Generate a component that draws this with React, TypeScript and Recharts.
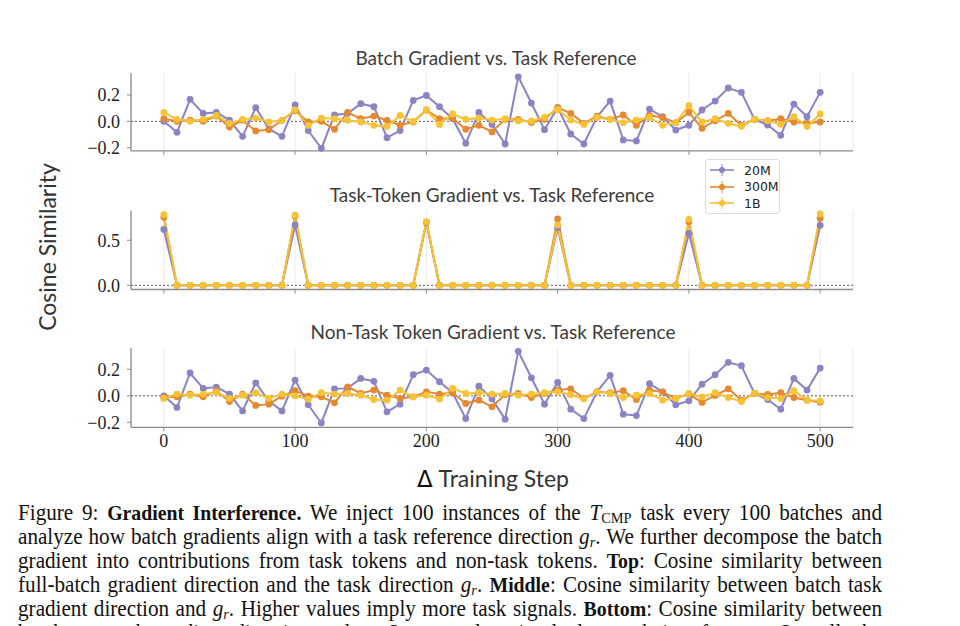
import React from 'react';
import { LineChart, Line, XAxis, YAxis, CartesianGrid, ReferenceLine } from 'recharts';

// ---- data ----
const steps = [0, 10, 20, 30, 40, 50, 60, 70, 80, 90, 100, 110, 120, 130, 140, 150, 160, 170, 180, 190, 200, 210, 220, 230, 240, 250, 260, 270, 280, 290, 300, 310, 320, 330, 340, 350, 360, 370, 380, 390, 400, 410, 420, 430, 440, 450, 460, 470, 480, 490, 500];
const xTicks = [0, 100, 200, 300, 400, 500];

const batch20M = [0.0, -0.083, 0.167, 0.06, 0.068, 0.01, -0.114, 0.104, -0.058, -0.114, 0.124, -0.07, -0.205, 0.048, 0.06, 0.134, 0.111, -0.124, -0.07, 0.159, 0.197, 0.111, 0.02, -0.167, 0.068, -0.023, -0.172, 0.338, 0.139, -0.063, 0.104, -0.096, -0.172, 0.035, 0.154, -0.141, -0.149, 0.093, 0.035, -0.066, -0.03, 0.086, 0.154, 0.253, 0.22, 0.015, -0.028, -0.106, 0.131, 0.035, 0.22];
const batch300M = [0.02, 0.0, 0.01, 0.0, 0.04, -0.043, 0.008, -0.073, -0.063, 0.008, 0.08, -0.005, 0.0, -0.06, 0.068, 0.02, 0.04, 0.008, -0.03, -0.005, 0.086, 0.02, 0.023, -0.06, -0.03, -0.08, 0.015, 0.015, -0.008, 0.015, 0.104, 0.06, -0.015, 0.04, 0.015, 0.048, -0.03, 0.045, 0.03, -0.01, 0.068, -0.053, 0.005, 0.06, -0.03, 0.015, 0.005, 0.02, -0.005, -0.015, -0.005];
const batch1B = [0.068, 0.015, 0.0, 0.015, 0.045, -0.015, 0.015, 0.025, -0.005, 0.008, 0.086, -0.03, 0.025, 0.02, 0.008, -0.005, -0.03, -0.038, 0.045, 0.0, 0.086, -0.023, 0.056, 0.015, 0.025, 0.01, 0.02, 0.003, 0.003, 0.03, 0.09, 0.01, -0.023, 0.03, 0.015, -0.01, 0.01, 0.03, -0.03, -0.01, 0.119, -0.005, 0.02, -0.015, -0.038, 0.015, 0.005, -0.023, 0.035, -0.038, 0.056];

const task20M = [0.62, 0, 0, 0, 0, 0, 0, 0, 0, 0, 0.67, 0, 0, 0, 0, 0, 0, 0, 0, 0, 0.70, 0, 0, 0, 0, 0, 0, 0, 0, 0, 0.64, 0, 0, 0, 0, 0, 0, 0, 0, 0, 0.578, 0, 0, 0, 0, 0, 0, 0, 0, 0, 0.667];
const task300M = [0.755, 0, 0, 0, 0, 0, 0, 0, 0, 0, 0.77, 0, 0, 0, 0, 0, 0, 0, 0, 0, 0.70, 0, 0, 0, 0, 0, 0, 0, 0, 0, 0.737, 0, 0, 0, 0, 0, 0, 0, 0, 0, 0.707, 0, 0, 0, 0, 0, 0, 0, 0, 0, 0.745];
const task1B = [0.785, 0, 0, 0, 0, 0, 0, 0, 0, 0, 0.78, 0, 0, 0, 0, 0, 0, 0, 0, 0, 0.707, 0, 0, 0, 0, 0, 0, 0, 0, 0, 0.67, 0, 0, 0, 0, 0, 0, 0, 0, 0, 0.733, 0, 0, 0, 0, 0, 0, 0, 0, 0, 0.793];

const non20M = [0, -0.088, 0.172, 0.056, 0.066, 0.013, -0.114, 0.098, -0.04, -0.114, 0.119, -0.068, -0.205, 0.053, 0.056, 0.131, 0.109, -0.121, -0.063, 0.159, 0.194, 0.106, 0.023, -0.172, 0.073, -0.023, -0.177, 0.336, 0.136, -0.063, 0.101, -0.101, -0.172, 0.03, 0.154, -0.139, -0.149, 0.091, 0.03, -0.068, -0.038, 0.088, 0.159, 0.253, 0.227, 0.018, -0.028, -0.101, 0.131, 0.043, 0.209];
const non300M = [-0.013, -0.008, 0.013, -0.008, 0.038, -0.043, 0.013, -0.073, -0.063, -0.003, 0.038, -0.003, -0.008, -0.053, 0.068, 0.018, 0.043, 0.005, -0.02, -0.008, 0.03, 0.013, 0.023, -0.058, -0.033, -0.083, 0.01, 0.018, -0.013, 0.018, 0.043, 0.053, -0.02, 0.03, 0.023, 0.038, -0.028, 0.043, 0.028, -0.02, 0.013, -0.05, 0.003, 0.053, -0.033, 0.018, 0.01, 0.023, -0.013, -0.033, -0.048];
const non1B = [-0.02, 0.013, 0.005, 0.013, 0.025, -0.02, 0.005, 0.023, -0.02, 0.013, 0, -0.025, 0.023, 0.013, 0.018, 0.005, -0.028, -0.033, 0.043, -0.008, 0.005, -0.025, 0.056, 0.018, 0.023, 0.013, 0.018, 0.005, 0.013, 0.023, 0.03, 0.008, -0.023, 0.03, 0.018, -0.013, 0.005, 0.018, -0.033, -0.02, 0.018, -0.008, 0.023, -0.013, -0.043, 0.018, -0.013, -0.02, 0.038, -0.033, -0.038];

const seriesNames = ['20M', '300M', '1B'];
const seriesColors = ['#8b83c4', '#e4892f', '#f7c233'];
const seriesKeys = ['s20M', 's300M', 's1B'];

const panelTitles = [
  'Batch Gradient vs. Task Reference',
  'Task-Token Gradient vs. Task Reference',
  'Non-Task Token Gradient vs. Task Reference',
];

function buildRows(a: number[], b: number[], c: number[]) {
  return steps.map((s, i) => ({ step: s, s20M: a[i], s300M: b[i], s1B: c[i] }));
}

const fmt = (v: number) => {
  if (Math.abs(v) < 1e-9) return '0.0';
  return v < 0 ? '\u2212' + Math.abs(v).toFixed(1) : v.toFixed(1);
};

const SPINE = '#8c8c8c';

type PanelProps = {
  top: number;
  plotTop: number;
  plotBottom: number;
  domain: [number, number];
  ticks: number[];
  rows: any[];
  showLabels: boolean;
};

function Panel({ top, plotTop, plotBottom, domain, ticks, rows, showLabels }: PanelProps) {
  const xAxisH = showLabels ? 30 : 12;
  const height = plotBottom - top + xAxisH;
  return (
    <div style={{ position: 'absolute', left: 0, top }}>
      <LineChart
        width={960}
        height={height}
        data={rows}
        margin={{ top: plotTop - top, right: 107, bottom: 0, left: 0 }}
      >
        <CartesianGrid horizontal={false} stroke="#ebebeb" strokeWidth={1} />
        <XAxis
          dataKey="step"
          type="number"
          domain={[-25, 525]}
          ticks={xTicks}
          interval={0}
          height={xAxisH}
          tickSize={4}
          tickMargin={3}
          axisLine={{ stroke: SPINE, strokeWidth: 1.3 }}
          tickLine={{ stroke: SPINE }}
          tickFormatter={showLabels ? (v: number) => String(v) : () => ''}
          tick={{ fontFamily: 'Liberation Serif', fontSize: 18, fill: '#222' }}
        />
        <YAxis
          type="number"
          domain={domain}
          ticks={ticks}
          interval={0}
          width={131}
          tickSize={4}
          tickMargin={7}
          axisLine={{ stroke: SPINE, strokeWidth: 1.3 }}
          tickLine={{ stroke: SPINE }}
          tickFormatter={fmt}
          tick={{ fontFamily: 'Liberation Serif', fontSize: 18, fill: '#222' }}
        />
        <ReferenceLine y={0} stroke="#444" strokeDasharray="2 2" strokeWidth={0.9} />
        {seriesKeys.map((k, i) => (
          <Line
            key={k}
            dataKey={k}
            name={seriesNames[i]}
            type="linear"
            stroke={seriesColors[i]}
            strokeWidth={2}
            dot={{ r: 3.4, fill: seriesColors[i], stroke: seriesColors[i], strokeWidth: 0 }}
            isAnimationActive={false}
          />
        ))}
      </LineChart>
    </div>
  );
}

function LegendBox() {
  return (
    <div
      style={{
        position: 'absolute',
        left: 705,
        top: 159,
        width: 75,
        height: 55,
        border: '1px solid #dcdcdc',
        borderRadius: 3,
        background: 'rgba(255,255,255,0.85)',
        boxSizing: 'border-box',
        paddingTop: 2,
      }}
    >
      {seriesNames.map((n, i) => (
        <div key={n} style={{ display: 'flex', alignItems: 'center', height: 16.5, paddingLeft: 3 }}>
          <svg width={26} height={14}>
            <line x1={1} y1={7} x2={25} y2={7} stroke={seriesColors[i]} strokeWidth={1.6} />
            <line x1={13} y1={1} x2={13} y2={13} stroke={seriesColors[i]} strokeWidth={1} />
            <circle cx={13} cy={7} r={3} fill={seriesColors[i]} />
          </svg>
          <span style={{ fontFamily: 'DejaVu Sans', fontSize: 12.5, color: '#222', marginLeft: 9 }}>{n}</span>
        </div>
      ))}
    </div>
  );
}

const titleStyle: React.CSSProperties = {
  position: 'absolute',
  width: 600,
  textAlign: 'center',
  fontFamily: 'Lato',
  fontSize: 19,
  lineHeight: '22px',
  color: '#3c3c3c',
  whiteSpace: 'nowrap',
};

const Tsub = () => (
  <span>
    <i>T</i>
    <span style={{ fontSize: '0.68em', verticalAlign: '-3px', lineHeight: 0 }}>CMP</span>
  </span>
);
const Gr = () => (
  <span>
    <i>g</i>
    <i style={{ fontSize: '0.68em', verticalAlign: '-3px', lineHeight: 0 }}>r</i>
  </span>
);

const B = ({ children }: { children: React.ReactNode }) => (
  <b style={{ fontSize: '0.935em' }}>{children}</b>
);

const captionLines: React.ReactNode[] = [
  <>Figure 9: <B>Gradient Interference.</B> We inject 100 instances of the <Tsub /> task every 100 batches and</>,
  <>analyze how batch gradients align with a task reference direction <Gr />. We further decompose the batch</>,
  <>gradient into contributions from task tokens and non-task tokens. <B>Top</B>: Cosine similarity between</>,
  <>full-batch gradient direction and the task direction <Gr />. <B>Middle</B>: Cosine similarity between batch task</>,
  <>gradient direction and <Gr />. Higher values imply more task signals. <B>Bottom</B>: Cosine similarity between</>,
  <>batch non-task gradient direction and <Gr />. Lower values imply less task interference. Overall, the</>,
];

const CAP_SCALE = 0.92;

export default function App() {
  return (
    <div
      style={{
        position: 'absolute',
        left: 0,
        top: 0,
        width: 960,
        height: 626,
        overflow: 'hidden',
        background: '#fff',
      }}
    >
      <div style={{ ...titleStyle, left: 196, top: 47 }}>{panelTitles[0]}</div>
      <div style={{ ...titleStyle, left: 192, top: 184 }}>{panelTitles[1]}</div>
      <div style={{ ...titleStyle, left: 193, top: 321 }}>{panelTitles[2]}</div>

      <Panel top={63} plotTop={73.2} plotBottom={150.9} domain={[-0.2243, 0.3655]} ticks={[-0.2, 0, 0.2]} rows={buildRows(batch20M, batch300M, batch1B)} showLabels={false} />
      <Panel top={200} plotTop={210.7} plotBottom={289.5} domain={[-0.0467, 0.829]} ticks={[0, 0.5]} rows={buildRows(task20M, task300M, task1B)} showLabels={false} />
      <Panel top={338} plotTop={348.3} plotBottom={427.3} domain={[-0.2377, 0.3585]} ticks={[-0.2, 0, 0.2]} rows={buildRows(non20M, non300M, non1B)} showLabels={true} />

      <LegendBox />

      <div
        style={{
          position: 'absolute',
          left: 47 - 110,
          top: 247 - 14,
          width: 220,
          height: 28,
          lineHeight: '28px',
          textAlign: 'center',
          transform: 'rotate(-90deg)',
          fontFamily: 'Lato',
          fontSize: 23,
          color: '#333',
          whiteSpace: 'nowrap',
        }}
      >
        Cosine Similarity
      </div>
      <div
        style={{
          position: 'absolute',
          left: 493 - 150,
          top: 478 - 14,
          width: 300,
          height: 28,
          lineHeight: '28px',
          textAlign: 'center',
          fontFamily: 'Lato',
          fontSize: 23,
          color: '#333',
          whiteSpace: 'nowrap',
        }}
      >
        <span style={{ fontFamily: 'DejaVu Sans', color: '#111' }}>Δ</span> Training Step
      </div>

      {captionLines.map((ln, i) => (
        <div
          key={i}
          style={{
            position: 'absolute',
            left: 18,
            top: 501 + i * 24,
            width: 864 / CAP_SCALE,
            height: 24,
            lineHeight: '24px',
            fontFamily: 'Liberation Serif',
            fontSize: 23,
            color: '#111',
            textAlign: 'justify',
            textAlignLast: 'justify',
            wordSpacing: -3,
            transform: `scaleX(${CAP_SCALE})`,
            transformOrigin: '0 0',
          }}
        >
          {ln}
        </div>
      ))}
    </div>
  );
}
